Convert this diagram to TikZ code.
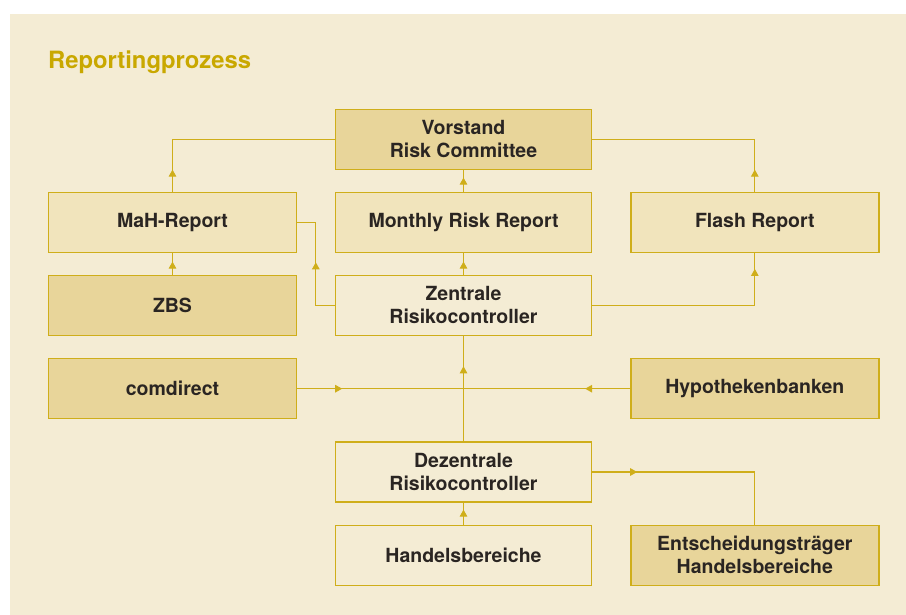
\documentclass[tikz,border=0pt]{standalone}
\usepackage{fontspec}
\setmainfont{TeX Gyre Heros}
\usetikzlibrary{arrows.meta,decorations.markings}

\definecolor{paper}{HTML}{F4ECD4}
\definecolor{gold}{HTML}{CFAE1A}
\definecolor{golddark}{HTML}{E8D59A}
\definecolor{goldlight}{HTML}{F1E4BC}
\definecolor{titlegold}{HTML}{C9A800}
\definecolor{ink}{HTML}{2A2522}

\tikzset{
	box/.style={draw=gold, line width=1.4pt, minimum height=60pt, inner sep=0pt, align=center, text=ink, font=\fontsize{19.5}{23}\selectfont\bfseries},
	sidebox/.style={box, minimum width=248pt},
	centrebox/.style={box, minimum width=256pt},
	flow/.style={color=gold, line width=1.1pt},
	midtip/.style={postaction={decorate}, decoration={markings, mark=at position #1 with {\arrow{Triangle[width=7.5pt,length=7pt]}}}}
}

\begin{document}
\begin{tikzpicture}[x=1pt, y=-1pt]
	\useasboundingbox (0,0) rectangle (906,615);
	\fill[paper] (10,14) rectangle (906,615);
	\node[anchor=base west, inner sep=0pt, text=titlegold, font=\fontsize{23.8}{28}\selectfont\bfseries] (title) at (48,69) {Reportingprozess};
	\node[fill=golddark] (vorstand) at (463.5,139.3) [centrebox] {Vorstand\\Risk Committee};
		\node[fill=goldlight] (mah) at (172.5,222.3) [sidebox] {MaH-Report};
		\node[fill=goldlight] (monthly) at (463.5,222.3) [centrebox] {Monthly Risk Report};
		\node[fill=goldlight] (flash) at (754.8,222.3) [sidebox] {Flash Report};
			\node[fill=golddark] (zbs) at (172.5,305.3) [sidebox] {ZBS};
			\node[fill=paper] (zentrale) at (463.5,305.3) [centrebox] {Zentrale\\Risikocontroller};
				\node[fill=golddark] (comdirect) at (172.5,388.7) [sidebox] {comdirect};
				\node[fill=golddark] (hypo) at (754.8,388.7) [sidebox] {Hypothekenbanken};
				\coordinate (hub) at (463.5,388.7);
					\node[fill=paper] (dezentrale) at (463.5,472) [centrebox] {Dezentrale\\Risikocontroller};
						\node[fill=paper] (handel) at (463.5,555.3) [centrebox] {Handelsbereiche};
						\node[fill=golddark] (entscheid) at (754.8,555.3) [sidebox] {Entscheidungsträger\\Handelsbereiche};
	\draw[flow, midtip=22pt] (mah.north) |- (vorstand.west);
	\draw[flow, midtip=22pt] (flash.north) |- (vorstand.east);
	\draw[flow, midtip=14pt] (monthly.north) -- (vorstand.south);
	\draw[flow, midtip=13pt] (zbs.north) -- (mah.south);
	\draw[flow, midtip=62pt] (zentrale.west) -- ++(-19,0) |- (mah.east);
	\draw[flow, midtip=13pt] (zentrale.north) -- (monthly.south);
	\draw[flow, midtip=199pt] (zentrale.east) -| (flash.south);
	\draw[flow, midtip=75pt] (dezentrale.north) -- (zentrale.south);
	\draw[flow, midtip=45pt] (comdirect.east) -- (hub);
	\draw[flow, midtip=45pt] (hypo.west) -- (hub);
	\draw[flow, midtip=45pt] (dezentrale.east) -| (entscheid.north);
	\draw[flow, midtip=15pt] (handel.north) -- (dezentrale.south);
\end{tikzpicture}
\end{document}
